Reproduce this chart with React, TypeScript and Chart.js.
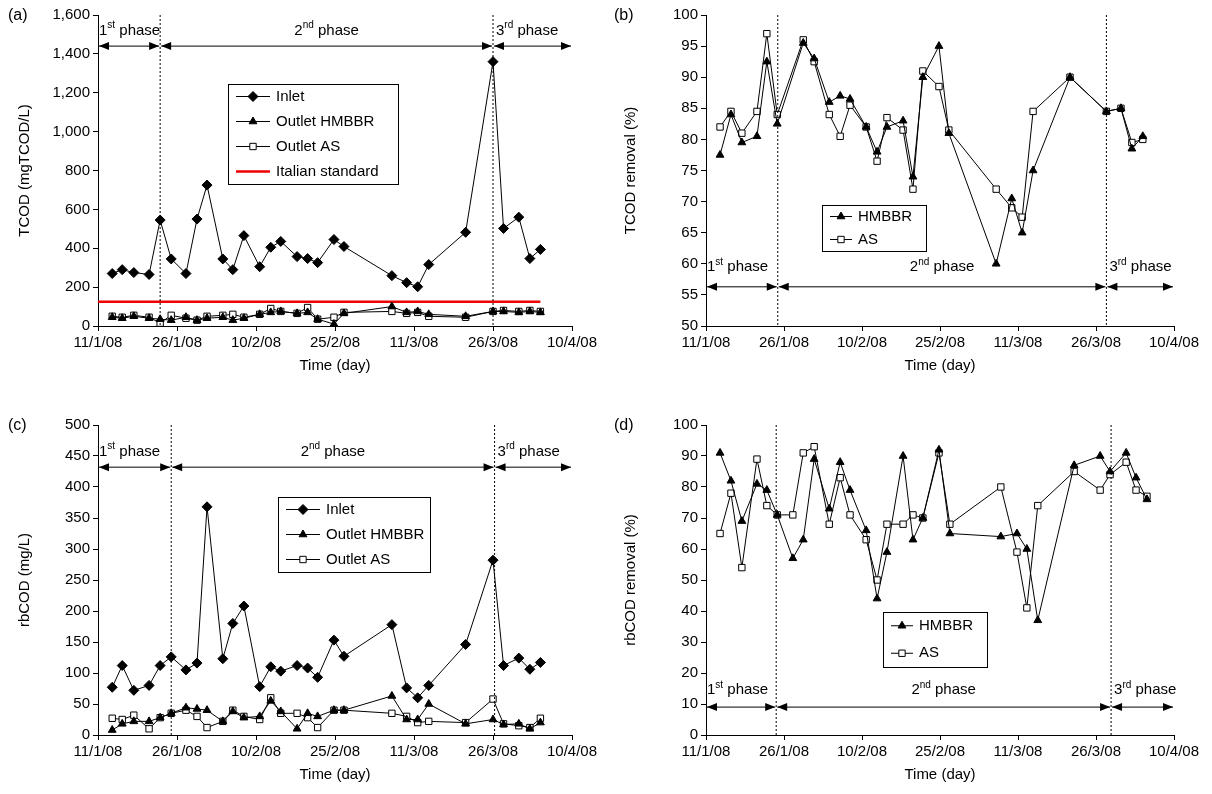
import { useEffect, useRef } from 'react';
import { Chart, registerables } from 'chart.js';
import { drawPoint } from 'chart.js/helpers';

Chart.register(...registerables);

const tickLabels = ['11/1/08', '26/1/08', '10/2/08', '25/2/08', '11/3/08', '26/3/08', '10/4/08'];

// days since 11/1/08
const daysA = [2.7, 4.6, 6.8, 9.7, 11.8, 13.9, 16.7, 18.8, 20.7, 23.7, 25.6, 27.7, 30.7, 32.8, 34.7, 37.8, 39.8, 41.7, 44.8, 46.7, 55.8, 58.6, 60.7, 62.8, 69.8, 75, 77, 79.9, 82, 84];
const inletA = [270, 290, 275, 265, 545, 345, 270, 550, 725, 345, 290, 465, 305, 405, 435, 357, 347, 326, 445, 409, 259, 223, 202, 316, 482, 1360, 502, 560, 347, 394];
const hmbbrA = [45, 40, 50, 40, 35, 30, 45, 30, 40, 45, 30, 40, 60, 70, 75, 65, 70, 35, 10, 65, 100, 70, 75, 60, 50, 75, 75, 70, 75, 70];
const asA = [50, 45, 55, 45, 15, 55, 40, 30, 50, 55, 60, 45, 60, 90, 75, 65, 95, 35, 45, 70, 75, 65, 70, 50, 45, 75, 80, 75, 80, 75];
const italianStdDays = [0, 84];
const italianStd = [125, 125];

const daysB = [2.7, 4.8, 6.9, 9.8, 11.7, 13.7, 18.7, 20.8, 23.7, 25.8, 27.7, 30.8, 32.9, 34.8, 37.9, 39.8, 41.7, 44.8, 46.7, 55.8, 58.8, 60.8, 62.9, 70, 77, 79.8, 81.9, 84];
const hmbbrB = [77.5, 84, 79.5, 80.5, 92.5, 82.5, 95.5, 93, 86, 87, 86.5, 82, 78, 82, 83, 74, 90, 95, 81, 60, 70.5, 65, 75, 90, 84.5, 85, 78.5, 80.5];
const asB = [82, 84.5, 81, 84.5, 97, 84, 96, 92.5, 84, 80.5, 85.5, 82, 76.5, 83.5, 81.5, 72, 91, 88.5, 81.5, 72, 69, 67.5, 84.5, 90, 84.5, 85, 79.5, 80];

const inletC = [77, 112, 72, 80, 112, 126, 105, 116, 368, 123, 180, 208, 78, 110, 103, 112, 108, 93, 153, 127, 178, 76, 60, 80, 146, 282, 112, 124, 106, 117];
const hmbbrC = [8, 18, 22, 22, 28, 35, 44, 42, 40, 22, 38, 28, 30, 55, 38, 10, 35, 30, 40, 40, 63, 25, 25, 50, 18, 25, 17, 18, 10, 20];
const asC = [27, 25, 32, 10, 28, 35, 40, 30, 12, 22, 40, 30, 25, 60, 35, 35, 28, 12, 40, 40, 35, 30, 20, 22, 20, 58, 18, 15, 12, 27];

const daysD = [2.7, 4.8, 6.9, 9.8, 11.7, 13.7, 16.7, 18.7, 20.8, 23.7, 25.8, 27.7, 30.8, 32.9, 34.8, 37.9, 39.8, 41.7, 44.8, 46.9, 56.7, 59.8, 61.7, 63.8, 70.8, 75.8, 77.7, 80.8, 82.7, 84.8];
const hmbbrD = [91, 82, 69, 81, 79, 71, 57, 63, 89, 73, 88, 79, 66, 44, 59, 90, 63, 70, 92, 65, 64, 65, 60, 37, 87, 90, 85, 91, 83, 76];
const asD = [65, 78, 54, 89, 74, 71, 71, 91, 93, 68, 83, 71, 63, 50, 68, 68, 71, 70, 91, 68, 80, 59, 41, 74, 85, 79, 84, 88, 79, 77];

const pts = (xs: number[], ys: number[]) => ys.map((y, i) => ({ x: xs[i], y }));
const FONT = '"Liberation Sans", Arial, sans-serif';

type LegendItem = { label: string; style: string; fill: string; line: string; width: number };
type Deco = {
  phases: [number, number];
  arrowY: number;
  labelY: number;
  legend: { x: number; y: number; w: number; h: number; lineLen: number; items: LegendItem[] };
  tag: string;
};

const decoPlugin = {
  id: 'deco',
  afterDraw(chart: any) {
    const d: Deco = chart.options.plugins.deco;
    if (!d) return;
    const { ctx, chartArea } = chart;
    const xs = chart.scales.x, ys = chart.scales.y;
    ctx.save();
    // phase dividers
    ctx.strokeStyle = '#000';
    ctx.lineWidth = 1;
    ctx.setLineDash([2, 2]);
    d.phases.forEach((p) => {
      const px = xs.getPixelForValue(p);
      ctx.beginPath();
      ctx.moveTo(px, chartArea.top);
      ctx.lineTo(px, chartArea.bottom);
      ctx.stroke();
    });
    ctx.setLineDash([]);
    // arrows
    const ay = ys.getPixelForValue(d.arrowY);
    const bounds = [chartArea.left, xs.getPixelForValue(d.phases[0]), xs.getPixelForValue(d.phases[1]), chartArea.right];
    const head = (x: number, dir: number) => {
      ctx.beginPath();
      ctx.moveTo(x, ay);
      ctx.lineTo(x - dir * 10, ay - 4);
      ctx.lineTo(x - dir * 10, ay + 4);
      ctx.closePath();
      ctx.fill();
    };
    ctx.fillStyle = '#000';
    for (let i = 0; i < 3; i++) {
      const a = bounds[i] + 1, b = bounds[i + 1] - 1;
      ctx.beginPath();
      ctx.moveTo(a, ay);
      ctx.lineTo(b, ay);
      ctx.stroke();
      head(a, -1);
      head(b, 1);
    }
    // phase labels
    const ly = ys.getPixelForValue(d.labelY);
    const sup = (x: number, n: string, s: string, align: string) => {
      ctx.font = `15px ${FONT}`;
      const w1 = ctx.measureText(n).width;
      ctx.font = `10px ${FONT}`;
      const w2 = ctx.measureText(s).width;
      ctx.font = `15px ${FONT}`;
      const w3 = ctx.measureText(' phase').width;
      const tw = w1 + w2 + w3;
      let sx = x;
      if (align === 'center') sx = x - tw / 2;
      ctx.textBaseline = 'middle';
      ctx.textAlign = 'left';
      ctx.fillText(n, sx, ly);
      ctx.font = `10px ${FONT}`;
      ctx.fillText(s, sx + w1, ly - 5);
      ctx.font = `15px ${FONT}`;
      ctx.fillText(' phase', sx + w1 + w2, ly);
    };
    sup(bounds[0] + 1, '1', 'st', 'left');
    sup((bounds[1] + bounds[2]) / 2, '2', 'nd', 'center');
    sup(bounds[2] + 3, '3', 'rd', 'left');
    // legend
    const L = d.legend;
    ctx.strokeStyle = '#000';
    ctx.lineWidth = 1;
    ctx.fillStyle = '#fff';
    ctx.fillRect(L.x, L.y, L.w, L.h);
    ctx.strokeRect(L.x + 0.5, L.y + 0.5, L.w, L.h);
    const step = L.h / L.items.length;
    L.items.forEach((it, i) => {
      const cy = L.y + step * (i + 0.5);
      const x0 = L.x + 8, x1 = x0 + L.lineLen;
      ctx.strokeStyle = it.line;
      ctx.lineWidth = it.width;
      ctx.beginPath();
      ctx.moveTo(x0, cy);
      ctx.lineTo(x1, cy);
      ctx.stroke();
      if (it.style) {
        ctx.strokeStyle = '#000';
        ctx.fillStyle = it.fill;
        ctx.lineWidth = 1;
        drawPoint(ctx, { pointStyle: it.style, radius: it.style === 'rectRot' ? 5 : 4.5, borderWidth: 1, rotation: 0 } as any, (x0 + x1) / 2, cy);
      }
      ctx.fillStyle = '#000';
      ctx.font = `15px ${FONT}`;
      ctx.textAlign = 'left';
      ctx.textBaseline = 'middle';
      ctx.fillText(it.label, x1 + 6, cy);
    });
    // tag
    ctx.font = `16px ${FONT}`;
    ctx.textAlign = 'left';
    ctx.textBaseline = 'middle';
    ctx.fillText(d.tag, 8, chartArea.top + 1);
    ctx.restore();
  },
};

const series = (label: string, data: any[], style: string, fill: string) => ({
  label,
  data,
  borderColor: '#000',
  borderWidth: 1,
  pointStyle: style,
  pointRadius: style === 'rectRot' ? 5 : 4.5,
  pointBackgroundColor: fill,
  pointBorderColor: '#000',
  pointBorderWidth: 1,
  showLine: true,
  tension: 0,
});

const itemInlet = { label: 'Inlet', style: 'rectRot', fill: '#000', line: '#000', width: 1 };
const itemH = { label: 'Outlet HMBBR', style: 'triangle', fill: '#000', line: '#000', width: 1 };
const itemA = { label: 'Outlet AS', style: 'rect', fill: '#fff', line: '#000', width: 1 };

function Panel(props: {
  datasets: any[];
  yMin: number; yMax: number; yStep: number; yTitle: string; comma?: boolean;
  left: number; right: number; top: number; bottom: number;
  deco: Deco;
}) {
  const ref = useRef<HTMLCanvasElement>(null);
  useEffect(() => {
    if (!ref.current) return;
    const axisFont = { family: FONT, size: 15 };
    const chart = new Chart(ref.current, {
      type: 'scatter',
      data: { datasets: props.datasets },
      plugins: [decoPlugin],
      options: {
        animation: false,
        responsive: false,
        layout: { padding: { top: props.top, right: props.right, bottom: props.bottom, left: 12 } },
        plugins: { legend: { display: false }, tooltip: { enabled: false }, deco: props.deco } as any,
        scales: {
          x: {
            type: 'linear', min: 0, max: 90,
            ticks: { stepSize: 15, color: '#000', font: axisFont, maxRotation: 0,
              callback: (v: any) => tickLabels[Math.round(v / 15)] },
            grid: { drawOnChartArea: false, drawTicks: true, tickLength: 5, color: '#000' },
            border: { color: '#000' },
            title: { display: true, text: 'Time (day)', color: '#000', font: axisFont, padding: { top: 2 } },
          },
          y: {
            min: props.yMin, max: props.yMax,
            ticks: { stepSize: props.yStep, color: '#000', font: axisFont,
              callback: (v: any) => (props.comma ? Number(v).toLocaleString('en-US') : String(v)) },
            grid: { drawOnChartArea: false, drawTicks: true, tickLength: 5, color: '#000' },
            border: { color: '#000' },
            title: { display: true, text: props.yTitle, color: '#000', font: axisFont },
            afterFit: (s: any) => { s.width = props.left - 12; },
          },
        },
      },
    });
    return () => chart.destroy();
  }, []);
  return <canvas ref={ref} width={606} height={397} style={{ display: 'block' }} />;
}

export default function App() {
  useEffect(() => { document.body.style.margin = '0'; }, []);
  const grid: any = { display: 'grid', gridTemplateColumns: '606px 606px', width: 1212, background: '#fff' };
  return (
    <div style={grid}>
      <Panel
        datasets={[
          series('Inlet', pts(daysA, inletA), 'rectRot', '#000'),
          series('Outlet HMBBR', pts(daysA, hmbbrA), 'triangle', '#000'),
          series('Outlet AS', pts(daysA, asA), 'rect', '#fff'),
          { label: 'Italian standard', data: pts(italianStdDays, italianStd), borderColor: '#e00', borderWidth: 2.5, pointRadius: 0, showLine: true },
        ]}
        yMin={0} yMax={1600} yStep={200} yTitle="TCOD (mgTCOD/L)" comma
        left={98} right={34} top={15} bottom={18}
        deco={{ phases: [11.8, 75], arrowY: 1440, labelY: 1520, tag: '(a)',
          legend: { x: 228, y: 84, w: 170, h: 100, lineLen: 34, items: [itemInlet, itemH, itemA, { label: 'Italian standard', style: '', fill: '', line: '#e00', width: 2.5 }] } }}
      />
      <Panel
        datasets={[
          series('HMBBR', pts(daysB, hmbbrB), 'triangle', '#000'),
          series('AS', pts(daysB, asB), 'rect', '#fff'),
        ]}
        yMin={50} yMax={100} yStep={5} yTitle="TCOD removal (%)"
        left={100} right={38} top={15} bottom={18}
        deco={{ phases: [13.8, 77], arrowY: 56.3, labelY: 59.5, tag: '(b)',
          legend: { x: 216, y: 205, w: 104, h: 46, lineLen: 22, items: [{ ...itemH, label: 'HMBBR' }, { ...itemA, label: 'AS' }] } }}
      />
      <Panel
        datasets={[
          series('Inlet', pts(daysA, inletC), 'rectRot', '#000'),
          series('Outlet HMBBR', pts(daysA, hmbbrC), 'triangle', '#000'),
          series('Outlet AS', pts(daysA, asC), 'rect', '#fff'),
        ]}
        yMin={0} yMax={500} yStep={50} yTitle="rbCOD (mg/L)"
        left={98} right={34} top={28} bottom={6}
        deco={{ phases: [13.9, 75.3], arrowY: 432, labelY: 457, tag: '(c)',
          legend: { x: 278, y: 100, w: 152, h: 75, lineLen: 34, items: [itemInlet, itemH, itemA] } }}
      />
      <Panel
        datasets={[
          series('HMBBR', pts(daysD, hmbbrD), 'triangle', '#000'),
          series('AS', pts(daysD, asD), 'rect', '#fff'),
        ]}
        yMin={0} yMax={100} yStep={10} yTitle="rbCOD removal (%)"
        left={100} right={38} top={28} bottom={6}
        deco={{ phases: [13.5, 77.9], arrowY: 9, labelY: 14.5, tag: '(d)',
          legend: { x: 277, y: 215, w: 104, h: 55, lineLen: 22, items: [{ ...itemH, label: 'HMBBR' }, { ...itemA, label: 'AS' }] } }}
      />
    </div>
  );
}
